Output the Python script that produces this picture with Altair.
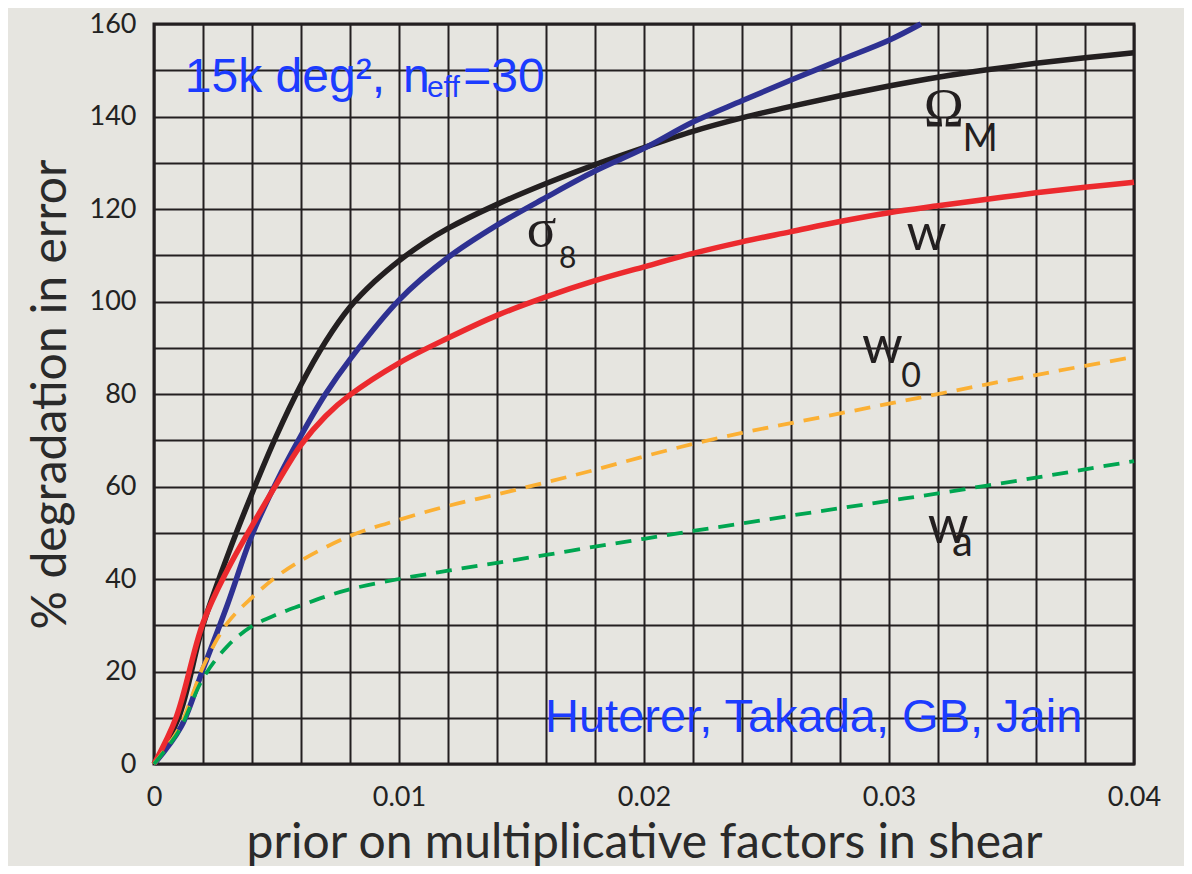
import altair as alt
import pandas as pd

# ---- data ----
om_x = [0, 0.001, 0.002, 0.003, 0.004, 0.005, 0.006, 0.007, 0.008, 0.009, 0.010, 0.011, 0.012, 0.014,
        0.016, 0.018, 0.020, 0.022, 0.024, 0.026, 0.028, 0.030, 0.032, 0.034, 0.036, 0.038, 0.040]
om_y = [0, 10, 30, 45, 58.5, 71, 82, 91.3, 98.8, 104.3, 108.8, 112.6, 115.8, 121,
        125.5, 129.6, 133.3, 136.8, 139.7, 142.2, 144.5, 146.6, 148.5, 150.1, 151.5, 152.7, 153.8]

s8_x = [0, 0.0011, 0.002, 0.003, 0.004, 0.005, 0.006, 0.007, 0.008, 0.010, 0.012, 0.014,
        0.016, 0.018, 0.020, 0.022, 0.024, 0.026, 0.028, 0.030, 0.0313]
s8_y = [0, 8, 20.5, 34.5, 49.5, 61, 71, 80, 87.5, 100.3, 109.5, 116.5,
        122.5, 128.2, 133.1, 138.8, 143.4, 147.9, 152.2, 156.5, 160]

w_x = [0, 0.0009, 0.002, 0.003, 0.004, 0.005, 0.006, 0.007, 0.008, 0.010, 0.012, 0.014,
       0.016, 0.018, 0.020, 0.022, 0.024, 0.026, 0.028, 0.030, 0.032, 0.034, 0.036, 0.038, 0.040]
w_y = [0, 10, 30.5, 42, 51.5, 60.5, 69, 75.2, 79.8, 86.7, 92.1, 97,
       101, 104.5, 107.5, 110.4, 112.9, 115.1, 117.3, 119.2, 120.7, 122.1, 123.5, 124.7, 125.8]

w0_x = [0, 0.001, 0.0016, 0.002, 0.003, 0.004, 0.005, 0.006, 0.008, 0.010, 0.012, 0.014,
        0.016, 0.018, 0.020, 0.022, 0.024, 0.026, 0.028, 0.030, 0.032, 0.034, 0.036, 0.038, 0.040]
w0_y = [0, 7.5, 15.4, 21, 30.5, 36, 40.5, 44, 49.3, 52.8, 55.8, 58.3,
        60.9, 63.6, 66.5, 69.2, 71.6, 73.7, 75.8, 77.9, 80.0, 82.1, 84.1, 86.1, 88.0]

wa_x = [0, 0.001, 0.002, 0.003, 0.004, 0.005, 0.006, 0.007, 0.008, 0.010, 0.012, 0.014,
        0.016, 0.018, 0.020, 0.022, 0.024, 0.026, 0.028, 0.030, 0.032, 0.034, 0.036, 0.038, 0.040]
wa_y = [0, 7, 18.5, 25.5, 29.8, 32.3, 34.3, 36.2, 37.8, 40, 41.8, 43.5,
        45.2, 47, 48.7, 50.4, 52, 53.7, 55.3, 56.9, 58.5, 60.2, 61.9, 63.7, 65.5]

series_names = ["Omega_M", "sigma_8", "w", "w0", "wa"]
series_colors = ["#231f20", "#2e3192", "#ec2a2e", "#fbb034", "#00a651"]
series_dash = ["solid", "solid", "solid", "dash", "dash"]

x_grid = [i * 0.002 for i in range(21)]
y_grid = list(range(0, 161, 10))

BG = "#e6e5e0"
INK = "#231f20"
BLUE = "#1c3cff"

rows = []
for name, xs, ys in zip(series_names, [om_x, s8_x, w_x, w0_x, wa_x], [om_y, s8_y, w_y, w0_y, wa_y]):
    for i, (a, b) in enumerate(zip(xs, ys)):
        rows.append({"series": name, "x": a, "y": b, "order": i})
df = pd.DataFrame(rows)

xscale = alt.Scale(domain=[0, 0.04], nice=False, zero=False)
yscale = alt.Scale(domain=[0, 160], nice=False)

xaxis = alt.Axis(values=x_grid, title="prior on multiplicative factors in shear",
                 labelExpr="round(datum.value*1000) % 10 == 0 ? format(datum.value, '~g') : ''",
                 grid=True, ticks=False, domain=False, labelPadding=20, titlePadding=9,
                 labelFlush=False)
yaxis = alt.Axis(values=y_grid, title="% degradation in error",
                 labelExpr="datum.value % 20 == 0 ? datum.label : ''", format="d",
                 grid=True, ticks=False, domain=False, labelPadding=18, titlePadding=14,
                 labelFlush=False)

lines = []
for name, col, dash in zip(series_names, series_colors, series_dash):
    d = df[df.series == name]
    if dash == "dash":
        m = alt.Chart(d).mark_line(color=col, strokeWidth=3.8, strokeDash=[16, 10], interpolate="catmull-rom")
    else:
        m = alt.Chart(d).mark_line(color=col, strokeWidth=5.5, interpolate="catmull-rom")
    lines.append(m.encode(x=alt.X("x:Q", scale=xscale, axis=xaxis),
                          y=alt.Y("y:Q", scale=yscale, axis=yaxis),
                          order="order:Q"))

# annotation labels (data coordinates)
blue_lbl = pd.DataFrame({
    "t": ["15k deg²,", "n", "eff", "=30", "Huterer, Takada, GB, Jain"],
    "x": [0.00126, 0.01016, 0.01114, 0.01262, 0.01596],
    "y": [145.3, 145.3, 144.2, 145.3, 6.98],
    "s": [48, 48, 30, 48, 47],
})
serif_lbl = pd.DataFrame({"t": ["Ω", "σ"], "x": [0.03142, 0.01521], "y": [137.9, 111.9], "s": [54, 55]})
sans_lbl = pd.DataFrame({
    "t": ["M", "8", "w", "w", "0", "w", "a"],
    "x": [0.0330, 0.01653, 0.03071, 0.0289, 0.0305, 0.03158, 0.03257],
    "y": [132.6, 107.2, 111.2, 86.6, 81.6, 47.7, 45.0],
    "s": [38, 30, 51, 52, 34, 52, 42],
})

def txt(d, font, color):
    return alt.Chart(d).mark_text(align="left", baseline="alphabetic", font=font, color=color).encode(
        x=alt.X("x:Q", scale=xscale), y=alt.Y("y:Q", scale=yscale),
        text="t:N", size=alt.Size("s:Q", scale=None, legend=None))

chart = alt.layer(
    *lines,
    txt(blue_lbl, "Liberation Sans", BLUE),
    txt(serif_lbl, "Liberation Serif", INK),
    txt(sans_lbl, "Lato", INK),
).properties(
    width=980, height=740,
    autosize="none",
    padding={"left": 146, "top": 16, "right": 50, "bottom": 102},
    background=BG,
).configure_view(
    stroke=INK, strokeWidth=3
).configure_axis(
    gridColor=INK, gridWidth=2, gridOpacity=1,
    labelFont="Lato", labelFontSize=27, labelColor="#222222",
    titleFont="Lato", titleFontSize=48, titleColor="#2a2a2a", titleFontWeight="normal",
)

chart.save("out.html", embed_options={"renderer": "svg", "actions": False})
